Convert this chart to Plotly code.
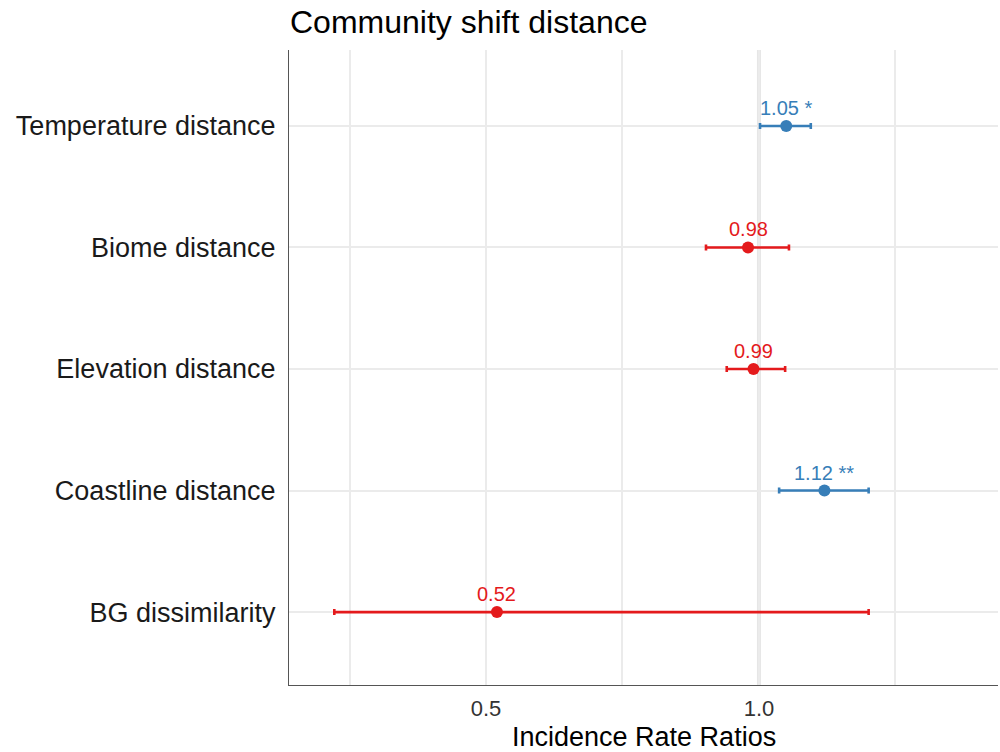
import plotly.graph_objects as go

# Model terms, bottom to top
terms = ["BG dissimilarity", "Coastline distance", "Elevation distance",
         "Biome distance", "Temperature distance"]
irr = [0.52, 1.12, 0.99, 0.98, 1.05]
ci_low = [0.222, 1.037, 0.941, 0.903, 1.002]
ci_high = [1.201, 1.201, 1.048, 1.055, 1.095]
stars = ["", " **", "", "", " *"]

x_ticks = [0.25, 0.5, 0.75, 1.0, 1.25]
x_tick_labels = ["", "0.5", "", "1.0", ""]

BLUE = "#377EB8"
RED = "#E41A1C"
FONT = "Liberation Sans"

fig = go.Figure()

ypos = list(range(len(terms)))

# reference line at IRR = 1
fig.add_shape(type="line", xref="x", yref="paper", x0=1.0, x1=1.0, y0=0, y1=1,
              line=dict(color="#e6e6e6", width=4), layer="below")

for i, t in enumerate(terms):
    col = BLUE if irr[i] > 1 else RED
    fig.add_trace(go.Scatter(
        x=[irr[i]], y=[ypos[i]], mode="markers",
        marker=dict(color=col, size=12),
        error_x=dict(type="data", symmetric=False,
                     array=[ci_high[i] - irr[i]], arrayminus=[irr[i] - ci_low[i]],
                     color=col, thickness=2.6, width=3),
        showlegend=False, hoverinfo="skip"))
    fig.add_annotation(x=irr[i], y=ypos[i], text=f"{irr[i]:.2f}{stars[i]}",
                       showarrow=False, yshift=18,
                       font=dict(color=col, size=20, family=FONT))

# x-axis title
fig.add_annotation(x=0.5, xref="paper", y=-52 / 635, yref="paper",
                   text="Incidence Rate Ratios", showarrow=False,
                   xanchor="center", yanchor="middle",
                   font=dict(size=27, color="black", family=FONT))

fig.update_layout(
    width=1000, height=752,
    margin=dict(l=289, r=2, t=50, b=67),
    plot_bgcolor="white", paper_bgcolor="white",
    font=dict(family=FONT, color="#1a1a1a"),
    title=dict(text="Community shift distance", x=290 / 1000, xanchor="left",
               y=1 - 22 / 752, yanchor="middle",
               font=dict(size=32, color="black", family=FONT)),
    xaxis=dict(range=[0.139, 1.438], tickvals=x_ticks, ticktext=x_tick_labels,
               showgrid=True, gridcolor="#ebebeb", gridwidth=1.5,
               zeroline=False, showline=True, linecolor="#555555", linewidth=1.2,
               ticks="", ticklabelstandoff=3,
               tickfont=dict(size=22, color="#333333")),
    yaxis=dict(range=[-0.6, 4.625], tickvals=ypos, ticktext=terms,
               showgrid=True, gridcolor="#ebebeb", gridwidth=2,
               zeroline=False, showline=True, linecolor="#555555", linewidth=1.2,
               ticks="", ticklabelstandoff=7,
               tickfont=dict(size=27, color="#1a1a1a")),
)

fig.write_html("out.html")
